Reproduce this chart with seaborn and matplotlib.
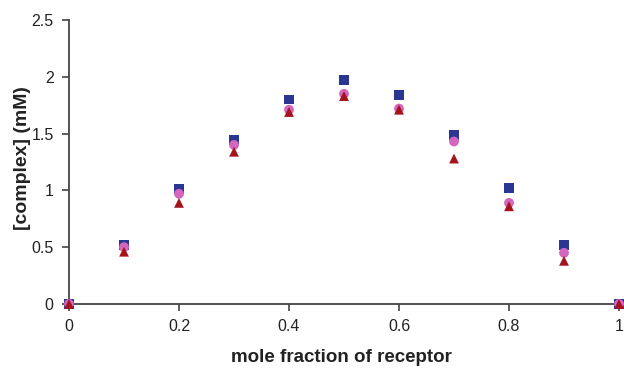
import matplotlib
matplotlib.use("Agg")
import matplotlib.pyplot as plt
import seaborn as sns
import pandas as pd
from matplotlib.ticker import FuncFormatter

mole_fraction = [0.0, 0.1, 0.2, 0.3, 0.4, 0.5, 0.6, 0.7, 0.8, 0.9, 1.0]
series_square = [0.0, 0.52, 1.01, 1.44, 1.80, 1.97, 1.84, 1.49, 1.02, 0.52, 0.0]
series_circle = [0.0, 0.50, 0.97, 1.40, 1.71, 1.85, 1.72, 1.43, 0.89, 0.45, 0.0]
series_triangle = [0.0, 0.46, 0.89, 1.34, 1.69, 1.83, 1.71, 1.28, 0.86, 0.38, 0.0]

sns.set_theme(style="white")
plt.rcParams['font.family'] = ['Liberation Sans', 'DejaVu Sans']

fig = plt.figure(figsize=(6.24, 3.68), dpi=100)
ax = fig.add_axes([0.1106, 0.174, 0.8814, 0.7717])

specs = [
    (series_square, "s", "#2b3592"),
    (series_circle, "o", "#d466bd"),
    (series_triangle, "^", "#a3141c"),
]
for vals, m, c in specs:
    df = pd.DataFrame({"x": mole_fraction, "y": vals})
    sns.scatterplot(data=df, x="x", y="y", marker=m, color=c, s=50,
                    edgecolor="none", linewidth=0, ax=ax, clip_on=False, zorder=3)

ax.set_xlim(0, 1)
ax.set_ylim(0, 2.5)
ax.set_xticks([0, 0.2, 0.4, 0.6, 0.8, 1.0])
ax.set_yticks([0, 0.5, 1.0, 1.5, 2.0, 2.5])
fmt = FuncFormatter(lambda v, p: ("%g" % round(v, 2)))
ax.xaxis.set_major_formatter(fmt)
ax.yaxis.set_major_formatter(fmt)

for side in ["top", "right"]:
    ax.spines[side].set_visible(False)
for side in ["left", "bottom"]:
    ax.spines[side].set_color("#444444")
    ax.spines[side].set_linewidth(1.3)

ax.tick_params(axis="both", which="major", direction="out", length=5, width=1.2,
               color="#444444", labelsize=11.5, labelcolor="#222222", pad=6)
ax.tick_params(left=True, bottom=True)

ax.set_xlabel("mole fraction of receptor", fontsize=13.5, fontweight="bold", color="#222222")
ax.set_ylabel("[complex] (mM)", fontsize=14, fontweight="bold", color="#222222")
ax.xaxis.set_label_coords(0.496, -0.16)
ax.yaxis.set_label_coords(-0.069, 0.514)

fig.savefig("out.png", dpi=100, facecolor="white")
